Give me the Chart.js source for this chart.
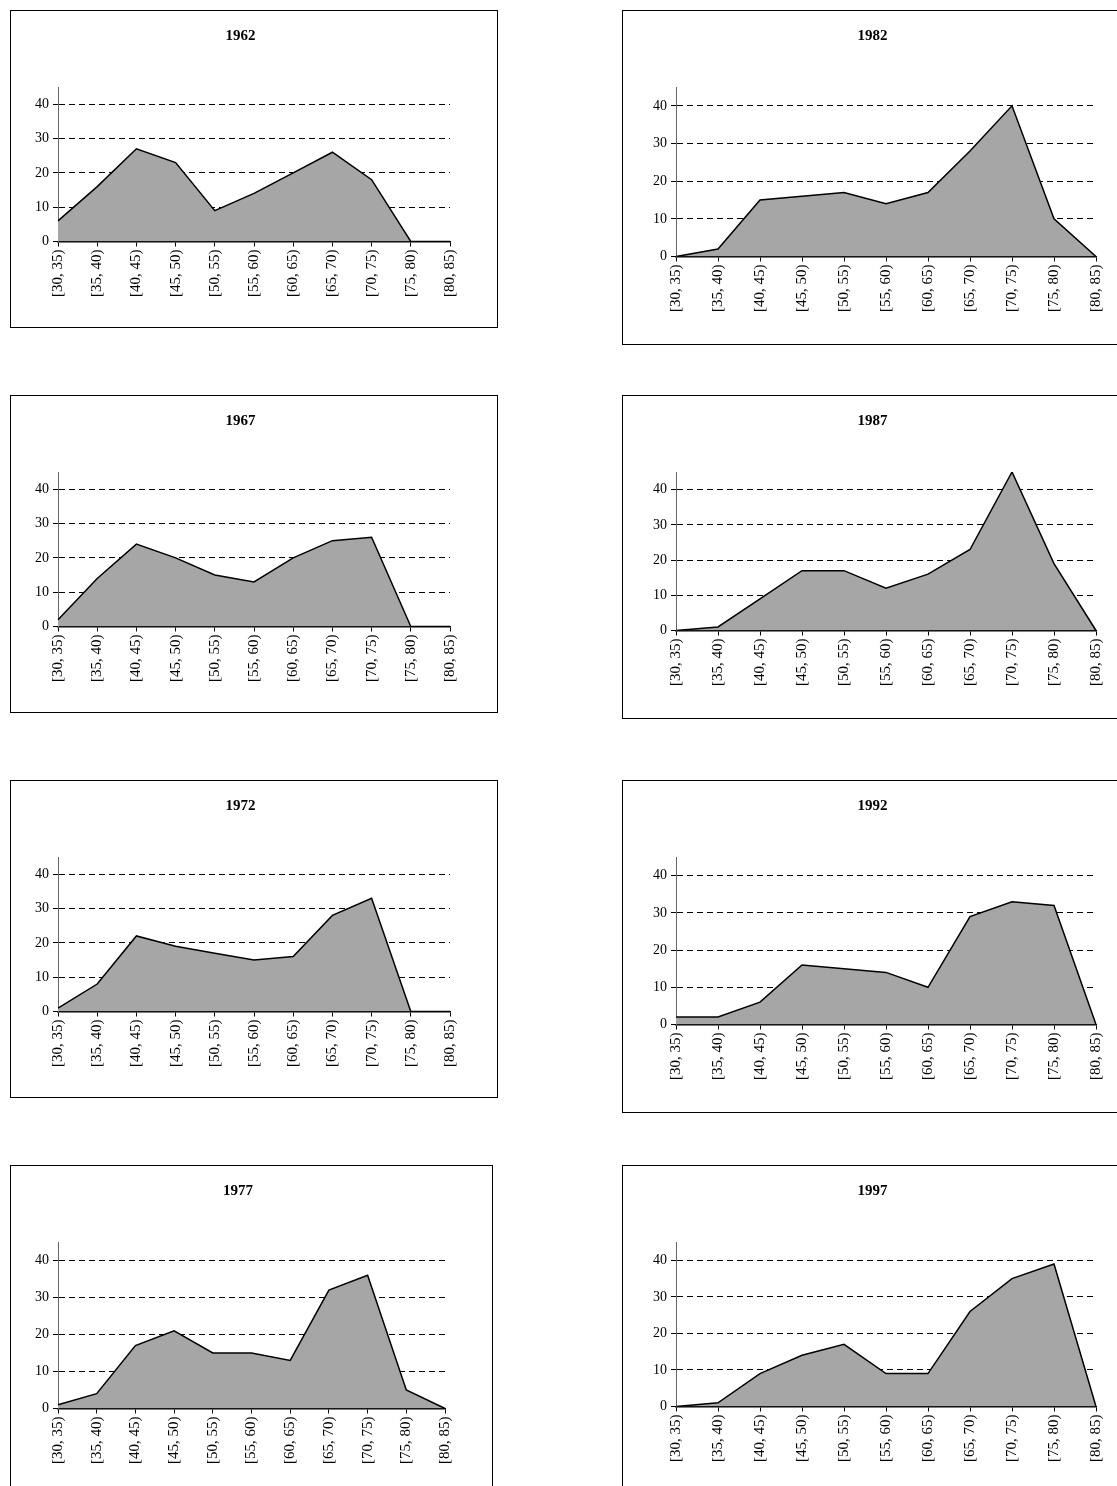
<!DOCTYPE html>
<html>
<head>
<meta charset="utf-8">
<script src="https://cdn.jsdelivr.net/npm/chart.js@4/dist/chart.umd.min.js"></script>
<style>
  body { margin: 0; background: #fff; width: 1117px; height: 1486px; overflow: hidden; position: relative; }
  .box { position: absolute; border: 1px solid #000; box-sizing: border-box; background: #fff; }
  .box canvas { position: absolute; left: 0; top: 0; }
</style>
</head>
<body>
<script>
const labels = ['[30, 35)', '[35, 40)', '[40, 45)', '[45, 50)', '[50, 55)', '[55, 60)',
                '[60, 65)', '[65, 70)', '[70, 75)', '[75, 80)', '[80, 85)'];
const years = ['1962', '1967', '1972', '1977', '1982', '1987', '1992', '1997'];
const v1962 = [6, 16, 27, 23, 9, 14, 20, 26, 18, 0, 0];
const v1967 = [2, 14, 24, 20, 15, 13, 20, 25, 26, 0, 0];
const v1972 = [1, 8, 22, 19, 17, 15, 16, 28, 33, 0, 0];
const v1977 = [1, 4, 17, 21, 15, 15, 13, 32, 36, 5, 0];
const v1982 = [0, 2, 15, 16, 17, 14, 17, 28, 40, 10, 0];
const v1987 = [0, 1, 9, 17, 17, 12, 16, 23, 45, 19, 0];
const v1992 = [2, 2, 6, 16, 15, 14, 10, 29, 33, 32, 0];
const v1997 = [0, 1, 9, 14, 17, 9, 9, 26, 35, 39, 0];
const series = [v1962, v1967, v1972, v1977, v1982, v1987, v1992, v1997];

// box layout: left, top, width, height
const boxes = [
  [10, 10, 488, 318], [10, 395, 488, 318], [10, 780, 488, 318], [10, 1165, 483, 330],
  [622, 10, 500, 335], [622, 395, 500, 324], [622, 780, 500, 333], [622, 1165, 500, 330],
];

const FONT = 'Liberation Serif, Times New Roman, serif';

years.forEach((yr, i) => {
  const [l, t, w, h] = boxes[i];
  const div = document.createElement('div');
  div.className = 'box';
  div.style.cssText = `left:${l}px;top:${t}px;width:${w}px;height:${h}px;`;
  const cv = document.createElement('canvas');
  div.appendChild(cv);
  document.body.appendChild(div);
  const right = i >= 4;
  new Chart(cv, {
    type: 'line',
    data: {
      labels: labels,
      datasets: [{
        data: series[i],
        fill: 'origin',
        backgroundColor: '#a6a6a6',
        borderColor: '#000',
        borderWidth: 1.5,
        pointRadius: 0,
        tension: 0,
      }],
    },
    options: {
      responsive: true,
      maintainAspectRatio: false,
      animation: false,
      layout: { padding: { left: right ? 26 : 20, right: right ? 25 : 47, top: 12, bottom: right ? 29 : 27 } },
      plugins: {
        legend: { display: false },
        tooltip: { enabled: false },
        title: {
          display: true, text: yr, color: '#000',
          font: { family: FONT, size: 15, weight: 'bold' },
          padding: { top: 4, bottom: 42 },
        },
      },
      scales: {
        x: {
          offset: false,
          grid: { display: true, drawOnChartArea: false, color: '#000', tickLength: 5 },
          border: { color: '#000', width: 1.5 },
          ticks: { color: '#000', font: { family: FONT, size: 15 }, maxRotation: 90, minRotation: 90, autoSkip: false, padding: 3 },
        },
        y: {
          min: 0, max: 45,
          afterBuildTicks: (s) => { s.ticks = [0, 10, 20, 30, 40].map((v) => ({ value: v })); },
          grid: {
            color: (c) => (c.tick && c.tick.value === 0 ? 'rgba(0,0,0,0)' : '#000'),
            tickColor: '#000', tickLength: 5,
          },
          border: { color: '#666', width: 1, dash: [6, 4] },
          ticks: { color: '#000', font: { family: FONT, size: 14 }, padding: 4 },
        },
      },
    },
  });
});
</script>
</body>
</html>
